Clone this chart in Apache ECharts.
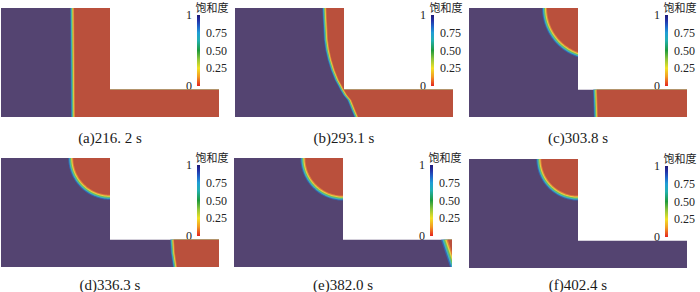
<!DOCTYPE html>
<html><head><meta charset="utf-8">
<script src="https://cdn.jsdelivr.net/npm/echarts@6/dist/echarts.min.js"></script>
<style>html,body{margin:0;padding:0;background:#fff}#c{width:700px;height:292px}</style>
</head><body><div id="c"></div>
<script>
// ---------------- data ----------------
const captions = ['(a)216. 2 s', '(b)293.1 s', '(c)303.8 s', '(d)336.3 s', '(e)382.0 s', '(f)402.4 s'];
const cbTitle = '饱和度';
const cbTicks = [0, 0.25, 0.5, 0.75, 1];
const cbTickLabels = ['0', '0.25', '0.50', '0.75', '1'];
// L-shaped domain (x: 0..2, y: 0..1)
const domainShape = [[0, 0], [2, 0], [2, 0.25], [1, 0.25], [1, 1], [0, 1]];
// saturation front (edge of unsaturated zone), top to bottom, per panel
const frontA = [[0.670, 1], [0.679, 0]];
const frontB = [[0.838, 1.0], [0.843, 0.89], [0.853, 0.706], [0.866, 0.615], [0.887, 0.523], [0.915, 0.431], [0.952, 0.339], [0.98, 0.29], [1.0, 0.25], [1.03, 0.2], [1.067, 0.156], [1.104, 0.064], [1.131, 0]];
const frontC = [[1.174, 0.25], [1.183, 0]];
const frontD = [[1.587, 0.25], [1.596, 0.125], [1.615, 0]];
const frontE = [[1.963, 0.25], [2.046, 0]];
const frontF = [];
// unsaturated pocket at top-right corner of the column: [centre offset, radius]
const pocketA = null;
const pocketB = null;
const pocketC = [0.145, 0.429];
const pocketD = [0, 0.337];
const pocketE = [0, 0.345];
const pocketF = [0, 0.336];

// ---------------- styles / layout ----------------
const PURPLE = '#544471', RED = '#ba503c';
const bandColors = [RED, '#df7a3a', '#e6cf45', '#72c05a', '#3db3c0', '#3566b0'];
const fronts = [frontA, frontB, frontC, frontD, frontE, frontF];
const pockets = [pocketA, pocketB, pocketC, pocketD, pocketE, pocketF];
const frontBandPx = [4, 4, 4, 4, 7, 4];
const pocketBandPx = 5;
const boxes = [{left: 1, top: 8}, {left: 235, top: 8}, {left: 469, top: 8},
               {left: 1, top: 158}, {left: 234, top: 158}, {left: 469, top: 159}];
const W = 218, H = 109;
const captionY = [137.5, 284.5];
const SERIF = '"Liberation Serif","Times New Roman",serif';

function makeRender(front, pocket, fbw) {
  return function (params, api) {
    const sz = api.size([1, 1]);
    const ux = sz[0];
    const P = pts => pts.map(p => api.coord(p));
    const children = [{type: 'polygon', shape: {points: P(domainShape)}, style: {fill: PURPLE}}];
    const n = bandColors.length - 1;
    if (front && front.length) {
      for (let k = n; k >= 0; k--) {
        const s = fbw * k / n / ux;
        const pts = front.map(p => [p[0] - s, p[1]]);
        pts.push([2, 0], [2, 0.25]);
        if (front[0][1] > 0.25) pts.push([1, 0.25], [1, 1]);
        children.push({type: 'polygon', shape: {points: P(pts)}, style: {fill: bandColors[k]}});
      }
    }
    if (pocket) {
      for (let k = n; k >= 0; k--) {
        const R = pocket[1] + pocketBandPx * k / n / ux;
        const cx = 1 + pocket[0];
        const a = Math.acos(Math.min(1, pocket[0] / R));
        const pts = [];
        const N = 48;
        for (let j = 0; j <= N; j++) {
          const t = Math.PI + a * j / N;
          pts.push([cx + R * Math.cos(t), 1 + R * Math.sin(t)]);
        }
        pts.push([1, 1]);
        children.push({type: 'polygon', shape: {points: P(pts)}, style: {fill: bandColors[k]}});
      }
    }
    return {type: 'group', children};
  };
}

function cbRender(params, api) {
  const p0 = api.coord([0, 1]), p1 = api.coord([1, 0]);
  return {type: 'rect', shape: {x: p0[0], y: p0[1], width: p1[0] - p0[0], height: p1[1] - p0[1]},
    style: {fill: new echarts.graphic.LinearGradient(0, 0, 0, 1, [
      {offset: 0, color: '#1e1a78'}, {offset: 0.08, color: '#2233a8'}, {offset: 0.16, color: '#1f62c8'},
      {offset: 0.25, color: '#1f9ed6'}, {offset: 0.36, color: '#22b0b0'}, {offset: 0.5, color: '#1f9a3c'},
      {offset: 0.62, color: '#8cc43a'}, {offset: 0.75, color: '#f2e124'}, {offset: 0.87, color: '#f29a22'},
      {offset: 1, color: '#e52420'}])}};
}

const grid = [], xAxis = [], yAxis = [], series = [], graphic = [];
boxes.forEach((b, i) => {
  grid.push({left: b.left, top: b.top, width: W, height: H});
  xAxis.push({type: 'value', gridIndex: i, min: 0, max: 2, show: false});
  yAxis.push({type: 'value', gridIndex: i, min: 0, max: 1, show: false});
  series.push({type: 'custom', xAxisIndex: i, yAxisIndex: i, clip: true, silent: true,
    data: [[0, 0]], renderItem: makeRender(fronts[i], pockets[i], frontBandPx[i])});
});
const nb = boxes.length;
boxes.forEach((b, i) => {
  grid.push({left: b.left + 196, top: b.top + 7, width: 3, height: 71});
  xAxis.push({type: 'value', gridIndex: nb + i, min: 0, max: 1, show: false});
});
const axisCommon = {axisLine: {show: false}, axisTick: {show: false}, splitLine: {show: false}};
boxes.forEach((b, i) => {
  yAxis.push(Object.assign({type: 'value', gridIndex: nb + i, min: 0, max: 1, interval: 0.25, position: 'left',
    axisLabel: {margin: 5, fontFamily: SERIF, fontSize: 12, color: '#222',
      formatter: v => (v === 0 || v === 1) ? cbTickLabels[cbTicks.indexOf(v)] : ''}}, axisCommon));
});
boxes.forEach((b, i) => {
  yAxis.push(Object.assign({type: 'value', gridIndex: nb + i, min: 0, max: 1, interval: 0.25, position: 'right',
    axisLabel: {margin: 6, fontFamily: SERIF, fontSize: 12, color: '#222',
      formatter: v => (v > 0 && v < 1) ? cbTickLabels[cbTicks.indexOf(v)] : ''}}, axisCommon));
  series.push({type: 'custom', xAxisIndex: nb + i, yAxisIndex: nb + i, silent: true, data: [[0, 0]], renderItem: cbRender});
});
boxes.forEach((b, i) => {
  graphic.push({type: 'text', x: b.left + W / 2, y: captionY[i < 3 ? 0 : 1],
    style: {text: captions[i], fontFamily: SERIF, fontSize: 15, fill: '#1a1a1a', textAlign: 'center', textVerticalAlign: 'middle'}});
  graphic.push({type: 'text', x: Math.min(b.left + 196 + 15, 682), y: b.top - 1,
    style: {text: cbTitle, fontFamily: '"Noto Sans CJK SC",sans-serif', fontSize: 11, fill: '#222', textAlign: 'center', textVerticalAlign: 'middle'}});
});

const chart = echarts.init(document.getElementById('c'), null, {renderer: 'svg', width: 700, height: 292});
chart.setOption({animation: false, backgroundColor: '#fff', grid, xAxis, yAxis, series, graphic});
</script></body></html>
